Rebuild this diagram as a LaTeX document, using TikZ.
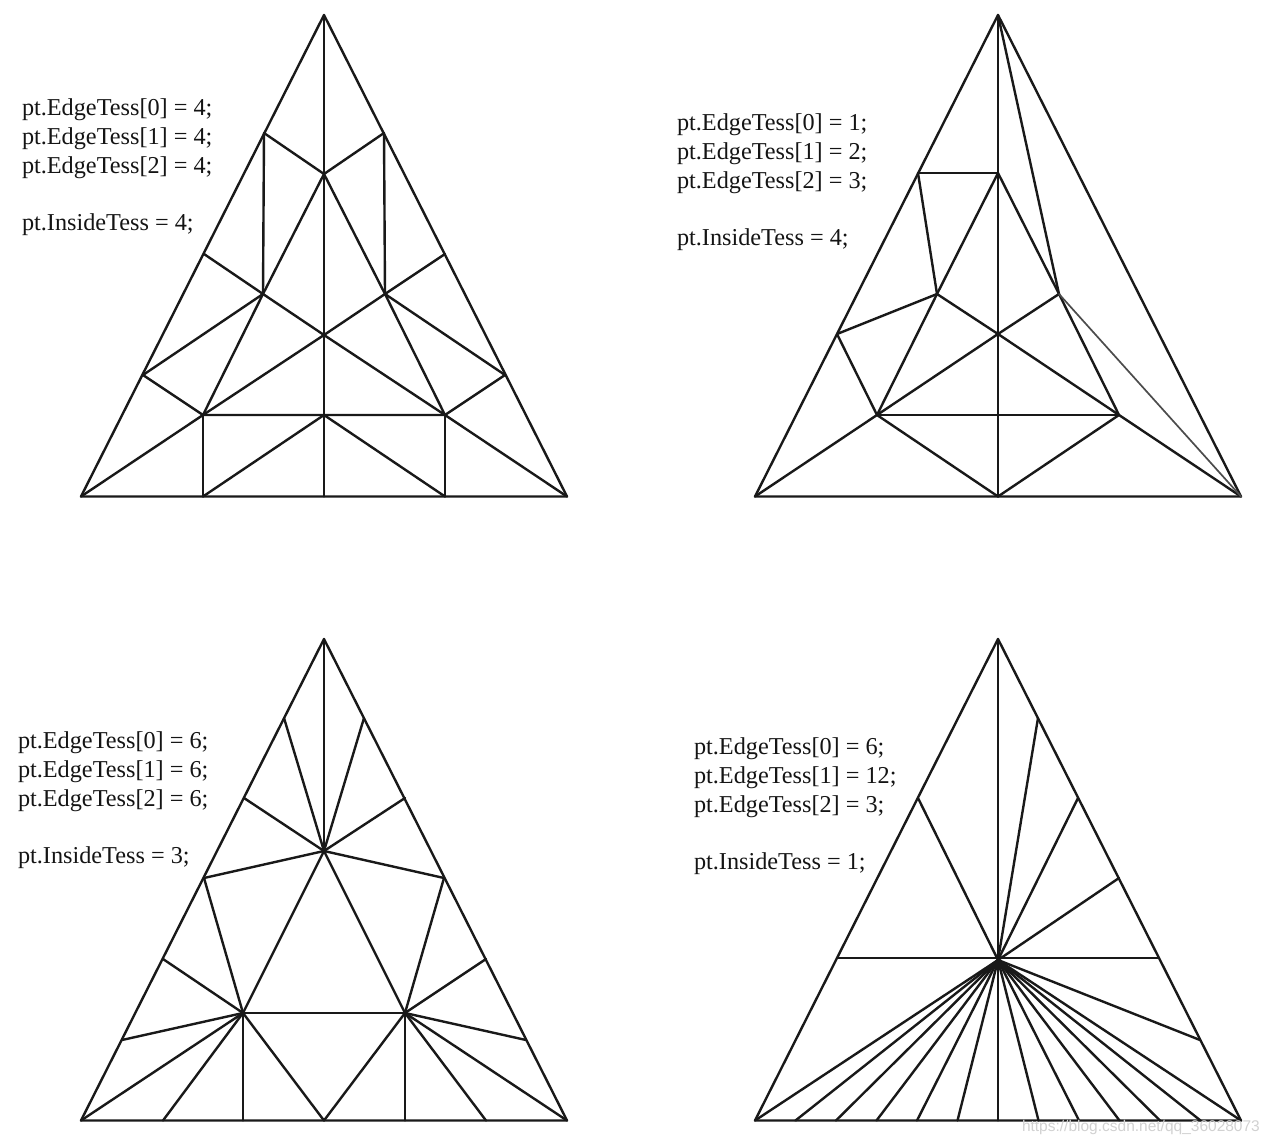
\documentclass[tikz,border=0pt]{standalone}
\usepackage{fontspec}
\setmainfont{Liberation Serif}
\newfontfamily\markfont{Liberation Sans}
\tikzset{
  mesh/.style={draw=black!90,line width=2.4pt,line cap=round,line join=round},
  thinmesh/.style={draw=black!70,line width=1.7pt,line cap=round},
  lab/.style={anchor=base west,inner sep=0pt,outer sep=0pt,font=\fontsize{24.25}{24.25}\selectfont,text=black!92},
  mark text/.style={anchor=base west,inner sep=0pt,outer sep=0pt,font=\markfont\fontsize{15.5}{15.5}\selectfont,text=black!18}
}
\begin{document}
\begin{tikzpicture}[x=1pt,y=-1pt]
\useasboundingbox (0,0) rectangle (1274,1143);
% ---------- panel 1
\coordinate (A) at (324,15); \coordinate (B) at (81,496.5); \coordinate (C) at (567,496.5);
\coordinate (l1) at (264,133); \coordinate (l2) at (204,254); \coordinate (l3) at (143,375);
\coordinate (r1) at (384,133); \coordinate (r2) at (445,254); \coordinate (r3) at (505,375);
\coordinate (t) at (324,174); \coordinate (m) at (324,335); \coordinate (k) at (324,415);
\coordinate (p) at (263,294); \coordinate (q) at (385,294);
\coordinate (u) at (203,415); \coordinate (v) at (445,415);
\coordinate (b1) at (203,496.5); \coordinate (b2) at (324,496.5); \coordinate (b3) at (445,496.5);
\draw[mesh] (A) -- (B) -- (C) -- cycle;
\draw[mesh] (A) -- (b2);
\draw[mesh] (l1) -- (t) -- (r1);
\draw[mesh] (l1) -- (p); \draw[mesh] (r1) -- (q);
\draw[mesh] (l2) -- (p); \draw[mesh] (r2) -- (q);
\draw[mesh] (l3) -- (p); \draw[mesh] (r3) -- (q);
\draw[mesh] (l3) -- (u); \draw[mesh] (r3) -- (v);
\draw[mesh] (B) -- (u) -- (v) -- (C);
\draw[mesh] (u) -- (b1); \draw[mesh] (v) -- (b3);
\draw[mesh] (b1) -- (k) -- (b3);
\draw[mesh] (u) -- (p) -- (t) -- (q) -- (v);
\draw[mesh] (p) -- (m) -- (q);
\draw[mesh] (u) -- (m) -- (v);
\node[lab] (t1a) at (22,115) {pt.EdgeTess[0] = 4;};
\node[lab] (t1b) at (22,144) {pt.EdgeTess[1] = 4;};
\node[lab] (t1c) at (22,173) {pt.EdgeTess[2] = 4;};
\node[lab] (t1d) at (22,230.5) {pt.InsideTess = 4;};
% ---------- panel 2
\coordinate (A2) at (998,15); \coordinate (B2) at (755,496.5); \coordinate (C2) at (1241,496.5);
\coordinate (e1) at (918,173); \coordinate (e2) at (837,334);
\coordinate (t2) at (998,173); \coordinate (p2) at (937,294); \coordinate (q2) at (1059,294);
\coordinate (m2) at (998,334); \coordinate (u2) at (877,415); \coordinate (v2) at (1119,415);
\coordinate (k2) at (998,415); \coordinate (b2m) at (998,496.5);
\draw[mesh] (A2) -- (B2) -- (C2) -- cycle;
\draw[mesh] (A2) -- (b2m);
\draw[mesh] (e1) -- (t2);
\draw[mesh] (e1) -- (p2);
\draw[mesh] (t2) -- (p2) -- (u2);
\draw[mesh] (t2) -- (q2) -- (v2);
\draw[mesh] (A2) -- (q2);
\draw[mesh] (e2) -- (p2);
\draw[mesh] (e2) -- (u2);
\draw[mesh] (p2) -- (m2) -- (q2);
\draw[mesh] (u2) -- (m2) -- (v2);
\draw[mesh] (u2) -- (v2);
\draw[mesh] (B2) -- (u2) -- (b2m) -- (v2) -- (C2);
\draw[thinmesh] (q2) -- (C2);
\node[lab] (t2a) at (677,130) {pt.EdgeTess[0] = 1;};
\node[lab] (t2b) at (677,159) {pt.EdgeTess[1] = 2;};
\node[lab] (t2c) at (677,188) {pt.EdgeTess[2] = 3;};
\node[lab] (t2d) at (677,245.5) {pt.InsideTess = 4;};
% ---------- panel 3
\coordinate (A3) at (324,639); \coordinate (B3) at (81,1120.5); \coordinate (C3) at (567,1120.5);
\coordinate (c3) at (324,851); \coordinate (L3) at (243,1013); \coordinate (R3) at (405,1013);
\coordinate (x1) at (284,718); \coordinate (x2) at (244,798); \coordinate (x3) at (204,878);
\coordinate (x4) at (163,959); \coordinate (x5) at (122,1040);
\coordinate (y1) at (364,718); \coordinate (y2) at (405,798); \coordinate (y3) at (444,878);
\coordinate (y4) at (486,959); \coordinate (y5) at (526,1040);
\coordinate (z1) at (163,1120.5); \coordinate (z2) at (243,1120.5); \coordinate (z3) at (324,1120.5);
\coordinate (z4) at (405,1120.5); \coordinate (z5) at (486,1120.5);
\draw[mesh] (A3) -- (B3) -- (C3) -- cycle;
\foreach \n in {A3,x1,y1,x2,y2,x3,y3,L3,R3} \draw[mesh] (c3) -- (\n);
\draw[mesh] (L3) -- (R3);
\foreach \n in {x3,x4,x5,B3,z1,z2,z3} \draw[mesh] (L3) -- (\n);
\foreach \n in {y3,y4,y5,C3,z3,z4,z5} \draw[mesh] (R3) -- (\n);
\node[lab] (t3a) at (18,748) {pt.EdgeTess[0] = 6;};
\node[lab] (t3b) at (18,777) {pt.EdgeTess[1] = 6;};
\node[lab] (t3c) at (18,806) {pt.EdgeTess[2] = 6;};
\node[lab] (t3d) at (18,863.5) {pt.InsideTess = 3;};
% ---------- panel 4
\coordinate (A4) at (998,639); \coordinate (B4) at (755,1120.5); \coordinate (C4) at (1241,1120.5);
\coordinate (c4) at (998,960);
\coordinate (f1) at (918,798); \coordinate (f2) at (837,958);
\coordinate (g1) at (1038,718); \coordinate (g2) at (1078,798); \coordinate (g3) at (1119,878);
\coordinate (g4) at (1159,958); \coordinate (g5) at (1200,1040);
\draw[mesh] (A4) -- (B4) -- (C4) -- cycle;
\draw[mesh] (f2) -- (g4);
\foreach \n in {A4,f1,g1,g2,g3,g5} \draw[mesh] (c4) -- (\n);
\foreach \i in {0,...,12} {
  \coordinate (h\i) at ({755+40.5*\i},1120.5);
  \draw[mesh] (c4) -- (h\i);
}
\node[lab] (t4a) at (694,754) {pt.EdgeTess[0] = 6;};
\node[lab] (t4b) at (694,783) {pt.EdgeTess[1] = 12;};
\node[lab] (t4c) at (694,812) {pt.EdgeTess[2] = 3;};
\node[lab] (t4d) at (694,869.5) {pt.InsideTess = 1;};
% ---------- watermark
\node[mark text] (wm) at (1022,1131) {https://blog.csdn.net/qq\_36028073};
\end{tikzpicture}
\end{document}
